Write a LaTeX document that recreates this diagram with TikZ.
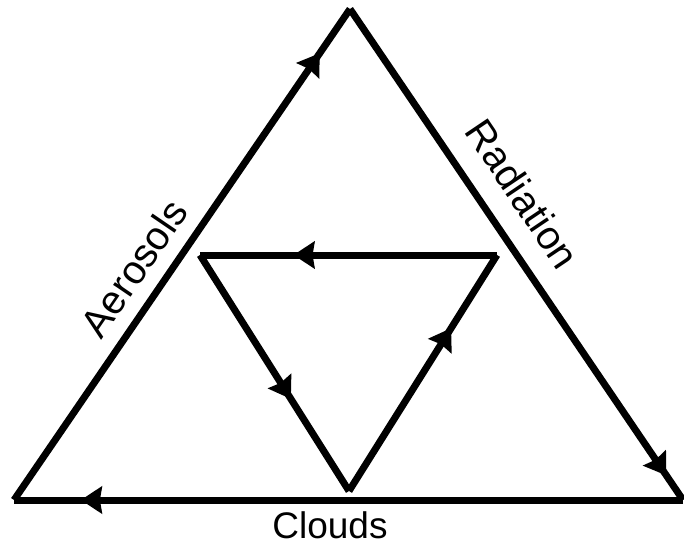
\documentclass[tikz,border=0pt]{standalone}
\usepackage{fontspec}
\setmainfont{Liberation Sans}
\usetikzlibrary{arrows.meta,decorations.markings}
\tikzset{
  edge/.style={line width=7pt, line cap=butt, line join=miter},
  head/.style={postaction={decorate},
    decoration={markings, mark=at position #1 with {\arrow{Stealth[length=21pt,width=27pt,inset=2pt]}}}},
  lbl/.style={font=\fontsize{40}{44}\selectfont, inner sep=0pt},
  blbl/.style={font=\fontsize{37}{40}\selectfont, inner sep=0pt}
}
\begin{document}
\begin{tikzpicture}[x=1pt,y=-1pt]
\useasboundingbox (0,0) rectangle (684,545);
\coordinate (T) at (350,9);
\coordinate (L) at (14,500);
\coordinate (R) at (683,500);
\coordinate (a) at (200,255);
\coordinate (b) at (497,255);
\coordinate (c) at (349,491);
\draw[edge, head=0.91] (L) -- (T);
\draw[edge, head=0.95] (T) -- (R);
\draw[edge, head=0.90] (R) -- (L);
\draw[edge, head=0.685] (b) -- (a);
\draw[edge, head=0.61] (a) -- (c);
\draw[edge, head=0.69] (c) -- (b);
\node[lbl, rotate=55.7] (aer) at (134,268) {Aerosols};
\node[lbl, rotate=-56] (rad) at (523,194) {Radiation};
\node[blbl, anchor=base] (cld) at (330,538) {Clouds};
\end{tikzpicture}
\end{document}
